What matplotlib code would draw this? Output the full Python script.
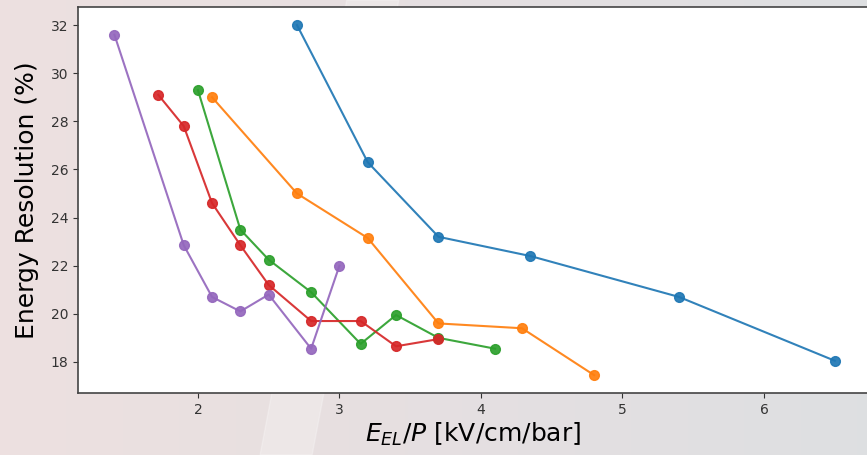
import numpy as np
import matplotlib
matplotlib.use("Agg")
import matplotlib.pyplot as plt

# E_EL/P [kV/cm/bar] and energy resolution [%] for each series
x_blue = [2.7, 3.2, 3.7, 4.35, 5.4, 6.5]
y_blue = [32.0, 26.3, 23.2, 22.4, 20.7, 18.05]

x_orange = [2.1, 2.7, 3.2, 3.7, 4.29, 4.8]
y_orange = [29.0, 25.0, 23.15, 19.6, 19.4, 17.45]

x_green = [2.0, 2.3, 2.5, 2.8, 3.15, 3.4, 3.7, 4.1]
y_green = [29.3, 23.5, 22.25, 20.9, 18.75, 19.95, 19.0, 18.55]

x_red = [1.72, 1.9, 2.1, 2.3, 2.5, 2.8, 3.15, 3.4, 3.7]
y_red = [29.1, 27.8, 24.6, 22.85, 21.2, 19.7, 19.7, 18.65, 18.95]

x_purple = [1.41, 1.9, 2.1, 2.3, 2.5, 2.8, 3.0]
y_purple = [31.6, 22.85, 20.7, 20.1, 20.8, 18.55, 22.0]

series = [(x_blue, y_blue), (x_orange, y_orange), (x_green, y_green),
          (x_red, y_red), (x_purple, y_purple)]

fig = plt.figure(figsize=(8.67, 4.55), dpi=100)

# slide-like background behind the plot
bg = fig.add_axes([0, 0, 1, 1], zorder=-10)
grad = np.linspace(0, 1, 300)
left = np.array([0.93, 0.88, 0.88])
right = np.array([0.87, 0.875, 0.885])
img = left[None, None, :] * (1 - grad[None, :, None]) + right[None, None, :] * grad[None, :, None]
img = np.repeat(img, 10, axis=0)
bg.imshow(img, aspect="auto", extent=[0, 1, 0, 1])
bg.fill([0.30, 0.36, 0.46, 0.40], [0, 0, 1, 1], color="white", alpha=0.25)
bg.set_xlim(0, 1)
bg.set_ylim(0, 1)
bg.axis("off")

ax = fig.add_axes([0.090, 0.1363, 0.912, 0.8483])
for xs, ys in series:
    ax.plot(xs, ys, marker="o", markersize=7, linewidth=1.5, alpha=0.92)

ax.set_xlim(1.153, 6.74)
ax.set_ylim(16.71, 32.75)
ax.set_xticks([2, 3, 4, 5, 6])
ax.set_yticks([18, 20, 22, 24, 26, 28, 30, 32])
ax.tick_params(labelsize=10, colors="#333333")
for s in ax.spines.values():
    s.set_color("#444444")
    s.set_linewidth(1.2)
ax.set_xlabel(r"$E_{EL}/P$ [kV/cm/bar]", fontsize=18, labelpad=3)
ax.set_ylabel("Energy Resolution (%)", fontsize=18, labelpad=8)

fig.savefig("out.png", dpi=100)
